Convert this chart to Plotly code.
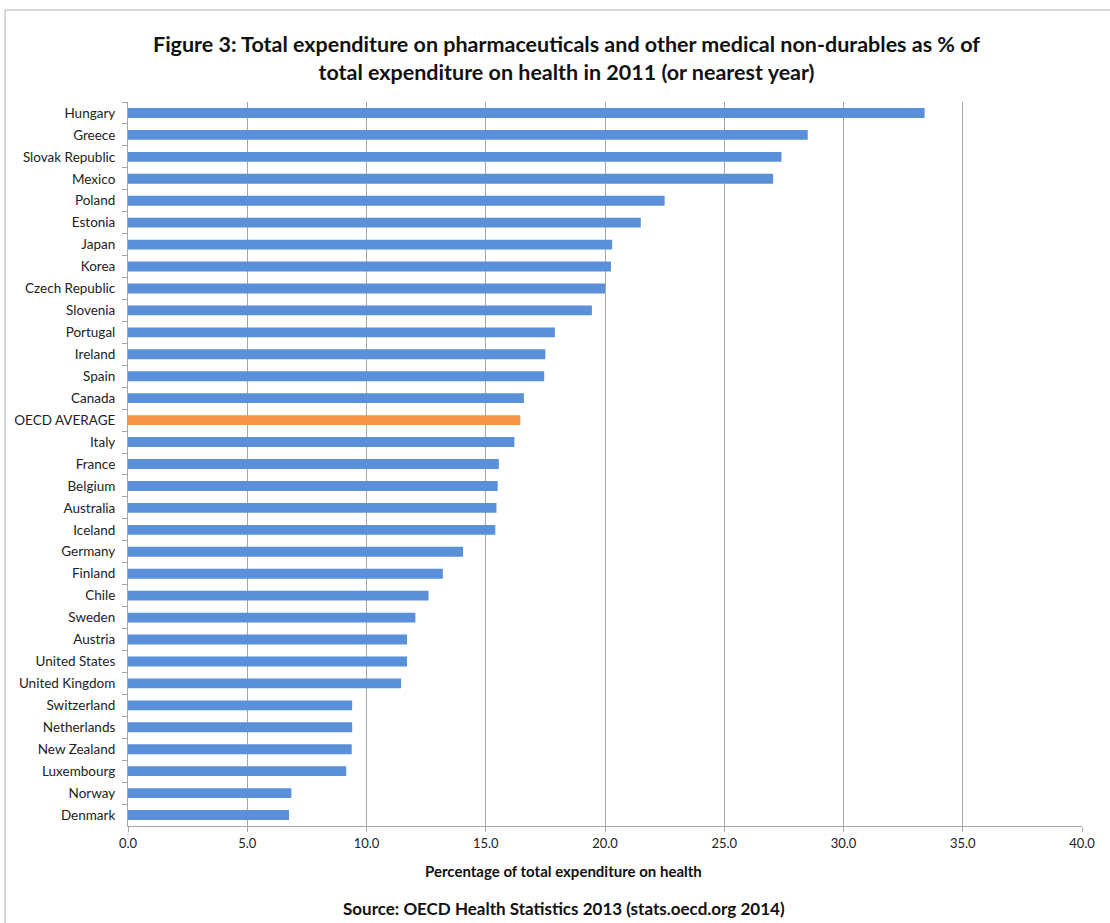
import plotly.graph_objects as go

countries = ["Hungary", "Greece", "Slovak Republic", "Mexico", "Poland", "Estonia", "Japan",
             "Korea", "Czech Republic", "Slovenia", "Portugal", "Ireland", "Spain", "Canada",
             "OECD AVERAGE", "Italy", "France", "Belgium", "Australia", "Iceland", "Germany",
             "Finland", "Chile", "Sweden", "Austria", "United States", "United Kingdom",
             "Switzerland", "Netherlands", "New Zealand", "Luxembourg", "Norway", "Denmark"]
values = [33.4, 28.5, 27.4, 27.05, 22.5, 21.5, 20.3,
          20.25, 20.0, 19.45, 17.9, 17.5, 17.45, 16.6,
          16.45, 16.2, 15.55, 15.5, 15.45, 15.4, 14.05,
          13.2, 12.6, 12.05, 11.7, 11.7, 11.45,
          9.4, 9.4, 9.38, 9.15, 6.85, 6.75]

title_lines = ["Figure 3: Total expenditure on pharmaceuticals and other medical non-durables as % of",
               "total expenditure on health in 2011 (or nearest year)"]
x_title = "Percentage of total expenditure on health"
source = "Source: OECD Health Statistics 2013 (stats.oecd.org 2014)"

BLUE = "#5a8fd9"
ORANGE = "#f79646"
colors = [ORANGE if c == "OECD AVERAGE" else BLUE for c in countries]

FONT = "Lato, 'Open Sans', sans-serif"
W, H = 1110, 923
L, R, T, B = 128, 28, 102, 97
pw = W - L - R
ph = H - T - B

def px_x(px):
    return (px - L) / pw

def px_y(py):
    return 1 - (py - T) / ph

fig = go.Figure(go.Bar(
    x=values, y=countries, orientation="h",
    marker=dict(color=colors, line=dict(width=0)),
    width=0.45,
    hoverinfo="x+y",
))

fig.update_layout(
    width=W, height=H,
    margin=dict(l=L, r=R, t=T, b=B),
    paper_bgcolor="white", plot_bgcolor="white",
    font=dict(family=FONT, size=13, color="#222"),
    showlegend=False,
    xaxis=dict(range=[0, 40], dtick=5, tickformat=".1f", showgrid=True,
               gridcolor="#a6a6a6", gridwidth=1, showline=True, linecolor="#a6a6a6",
               ticks="outside", ticklen=5, tickcolor="#a6a6a6", zeroline=False,
               tickfont=dict(size=13, color="#222")),
    yaxis=dict(autorange="reversed", showline=True, linecolor="#a6a6a6",
               ticks="outside", tickson="boundaries", ticklen=5, tickcolor="#a6a6a6",
               showgrid=False, tickfont=dict(size=13.5, color="#222"),
               ticklabelstandoff=9),
)

annotations = [
    dict(text="<b>" + title_lines[0] + "</b><br><b>" + title_lines[1] + "</b>",
         x=px_x(566), y=px_y(58), xref="paper", yref="paper",
         showarrow=False, font=dict(size=21.5, color="#111"), xanchor="center", yanchor="middle"),
    dict(text="<b>" + x_title + "</b>", x=px_x(563), y=px_y(871), xref="paper", yref="paper",
         showarrow=False, font=dict(size=15, color="#111"), xanchor="center", yanchor="middle"),
    dict(text="<b>" + source + "</b>", x=px_x(564), y=px_y(908), xref="paper", yref="paper",
         showarrow=False, font=dict(size=17, color="#111"), xanchor="center", yanchor="middle"),
]
fig.update_layout(annotations=annotations)

fig.add_shape(type="rect", xref="paper", yref="paper",
              x0=px_x(5), x1=px_x(1115), y0=px_y(930), y1=px_y(10),
              line=dict(color="#b0b0b0", width=1), fillcolor="rgba(0,0,0,0)", layer="below")

fig.write_html("out.html")
